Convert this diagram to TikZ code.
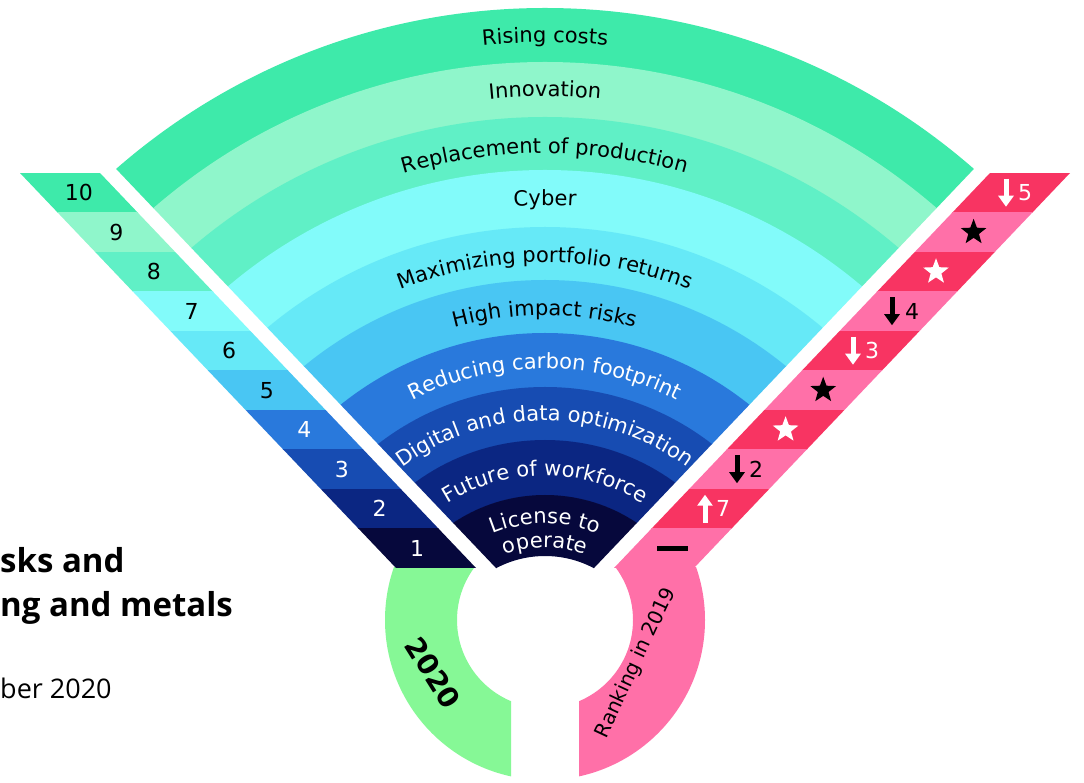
\documentclass[tikz,border=0pt]{standalone}
\usepackage{fontspec}
\setmainfont{DejaVu Sans}
\newfontfamily\lbl{DejaVu Sans}
\newfontfamily\ttl{Open Sans}
\usetikzlibrary{decorations.text,shapes.geometric,arrows.meta,calc}
\definecolor{cA}{HTML}{3EEAAA}
\definecolor{cB}{HTML}{8FF6CB}
\definecolor{cC}{HTML}{60F0C6}
\definecolor{cD}{HTML}{82FBFA}
\definecolor{cE}{HTML}{66E9F7}
\definecolor{cF}{HTML}{49C6F3}
\definecolor{cG}{HTML}{2979DC}
\definecolor{cH}{HTML}{174CB2}
\definecolor{cI}{HTML}{0B2682}
\definecolor{cJ}{HTML}{06083C}
\definecolor{ringgreen}{HTML}{86F896}
\definecolor{rkPink}{HTML}{FF70A8}
\definecolor{rkRed}{HTML}{F83462}
\newcommand\lblfont{\lbl\fontsize{21pt}{21pt}\selectfont}
\newcommand\fanlabel[3]{%
  \path[decorate,decoration={text along path,text align=center,text color=#1,text={|\lblfont|#3}}]
    ($(C)+(170:#2pt)$) arc[start angle=170,end angle=10,radius=#2pt];}
\newcommand\fanband[3]{%
  \fill[#1, even odd rule] (C) circle[radius=#2pt] (C) circle[radius=#3pt];}
\tikzset{
  numlbl/.style={font=\lbl\fontsize{22pt}{22pt}\selectfont, inner sep=0pt},
  rkarrow/.style={line width=5pt, -{Triangle[length=11pt,width=15pt]}},
  rkstar/.style={star, star points=5, star point ratio=2.4, minimum size=27pt, inner sep=0pt},
}
\begin{document}
\begin{tikzpicture}[x=1pt,y=1pt]
\useasboundingbox (0,0) rectangle (1084,782);
\fill[white] (0,0) rectangle (1084,782);
\coordinate (C) at (545,122);
\coordinate (R) at (545,162);

% bottom ring
\begin{scope}
  \clip (0,0) rectangle (511,214.5);
  \fill[ringgreen, even odd rule] (R) circle[radius=160pt] (R) circle[radius=88pt];
\end{scope}
\begin{scope}
  \clip (579,0) rectangle (1084,214.5);
  \fill[rkPink, even odd rule] (R) circle[radius=160pt] (R) circle[radius=88pt];
\end{scope}

% fan
\begin{scope}
  \clip (545,162.5) -- (-157,900) -- (1247,900) -- cycle;
  \fanband{cA}{652}{597.5}
  \fanband{cB}{598}{542.5}
  \fanband{cC}{543}{489.5}
  \fanband{cD}{490}{432.5}
  \fanband{cE}{433}{379.5}
  \fanband{cF}{380}{326.5}
  \fanband{cG}{327}{272.5}
  \fanband{cH}{273}{219.5}
  \fanband{cI}{220}{164.5}
  \fanband{cJ}{165}{104}
\end{scope}

\fanlabel{black}{617.5}{Rising costs}
\fanlabel{black}{563.5}{Innovation}
\fanlabel{black}{506.5}{Replacement of production}
\fanlabel{black}{454.5}{Cyber}
\fanlabel{black}{397.5}{Maximizing portfolio returns}
\fanlabel{black}{344.5}{High impact risks}
\fanlabel{white}{291.5}{Reducing carbon footprint}
\fanlabel{white}{239.5}{Digital and data optimization}
\fanlabel{white}{184.5}{Future of workforce}
\fanlabel{white}{136.5}{License to}
\fanlabel{white}{112.5}{operate}

% left strip (ranking 2020)
\begin{scope}
  \clip (20,609) -- (100,609) -- (476,214) -- (396,214) -- cycle;
  \foreach \k/\col in {0/cA,1/cB,2/cC,3/cD,4/cE,5/cF,6/cG,7/cH,8/cI,9/cJ}{
    \fill[\col] (0,{609-39.5*(\k+1)-0.5}) rectangle (600,{609-39.5*\k});
  }
\end{scope}
\foreach \k/\num/\tc in {0/10/black,1/9/black,2/8/black,3/7/black,4/6/black,5/5/black,6/4/white,7/3/white,8/2/white,9/1/white}{
  \node[numlbl, text=\tc] (n\num) at ({60+39.5*(\k+0.5)*0.9518},{609-39.5*(\k+0.5)}) {\num};
}

% right strip (ranking 2019)
\begin{scope}
  \clip (990,609) -- (1070,609) -- (694,214) -- (614,214) -- cycle;
  \foreach \k/\col in {0/rkRed,1/rkPink,2/rkRed,3/rkPink,4/rkRed,5/rkPink,6/rkRed,7/rkPink,8/rkRed,9/rkPink}{
    \fill[\col] (500,{609-39.5*(\k+1)-0.5}) rectangle (1084,{609-39.5*\k});
  }
\end{scope}

% symbols in right strip
\coordinate (a5t) at (1006,603.25); \coordinate (a5b) at (1006,575.25);
\draw[rkarrow, white] (a5t) -- (a5b);
\node[numlbl, text=white] (d5) at (1025,589.25) {5};
\node[rkstar, fill=black] (s1) at (973.6,549.75) {};
\node[rkstar, fill=white] (s2) at (936.0,510.25) {};
\coordinate (a4t) at (892,484.75); \coordinate (a4b) at (892,456.75);
\draw[rkarrow, black] (a4t) -- (a4b);
\node[numlbl, text=black] (d4) at (912,470.75) {4};
\coordinate (a3t) at (853,445.25); \coordinate (a3b) at (853,417.25);
\draw[rkarrow, white] (a3t) -- (a3b);
\node[numlbl, text=white] (d3) at (872,431.25) {3};
\node[rkstar, fill=black] (s3) at (823.2,391.75) {};
\node[rkstar, fill=white] (s4) at (785.6,352.25) {};
\coordinate (a2t) at (737,326.75); \coordinate (a2b) at (737,298.75);
\draw[rkarrow, black] (a2t) -- (a2b);
\node[numlbl, text=black] (d2) at (756,312.75) {2};
\coordinate (a7b) at (705,259.25); \coordinate (a7t) at (705,287.25);
\draw[rkarrow, white] (a7b) -- (a7t);
\node[numlbl, text=white] (d7) at (723,273.25) {7};
\coordinate (barL) at (657,233.75); \coordinate (barR) at (688,233.75);
\draw[line width=5pt, black] (barL) -- (barR);

% ring labels
\node[rotate=-58, font=\lbl\bfseries\fontsize{28pt}{28pt}\selectfont] (y2020) at (433,109) {2020};
\node[rotate=65, font=\lbl\fontsize{20pt}{20pt}\selectfont] (rank) at (636,119) {Ranking in 2019};

% title fragments
\node[anchor=base west, inner sep=0pt, font=\ttl\bfseries\fontsize{33pt}{33pt}\selectfont] (t1) at (0,209) {sks and};
\node[anchor=base west, inner sep=0pt, font=\ttl\bfseries\fontsize{33pt}{33pt}\selectfont] (t2) at (0,165) {ng and metals};
\node[anchor=base west, inner sep=0pt, font=\ttl\fontsize{27pt}{27pt}\selectfont] (t3) at (0,84) {ber 2020};
\end{tikzpicture}
\end{document}
